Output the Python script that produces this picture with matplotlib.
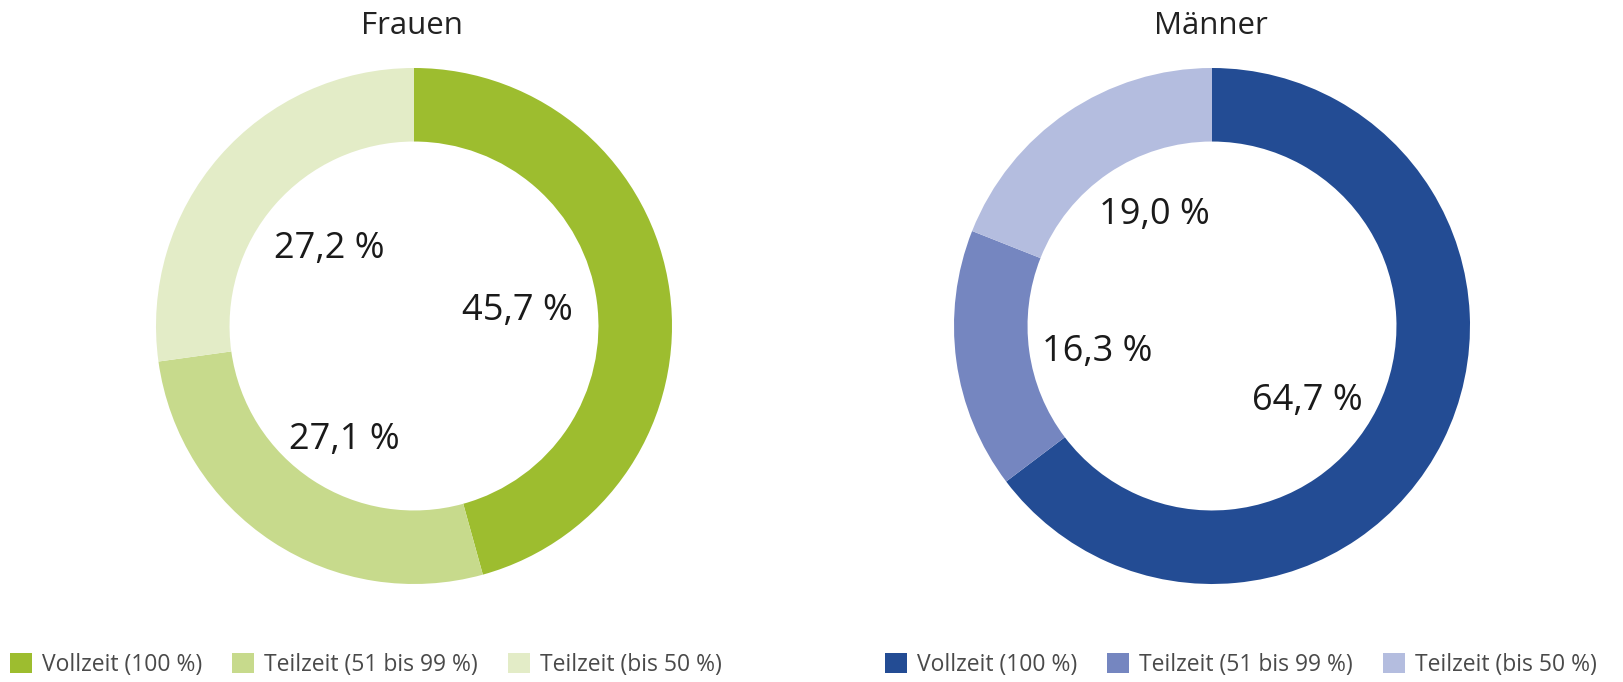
import numpy as np
import matplotlib
matplotlib.use("Agg")
import matplotlib.pyplot as plt
from matplotlib.patches import Patch

plt.rcParams['font.family'] = ['Open Sans', 'DejaVu Sans']

# Anteile Vollzeit / Teilzeit, in Prozent
kategorien = ['Vollzeit (100 %)', 'Teilzeit (51 bis 99 %)', 'Teilzeit (bis 50 %)']
frauen = [45.7, 27.1, 27.2]
maenner = [64.7, 16.3, 19.0]
titel = ['Frauen', 'Männer']

farben_frauen = ['#9dbd2f', '#c7da8c', '#e3ecc7']
farben_maenner = ['#234c94', '#7586c0', '#b4bddf']

# Lage der Prozentzahlen im Ring (Einheiten des Radius)
pos_frauen = [(0.40, 0.06), (-0.27, -0.44), (-0.33, 0.30)]
pos_maenner = [(0.37, -0.29), (-0.445, -0.10), (-0.225, 0.43)]

W, H = 1623, 682
fig = plt.figure(figsize=(W / 100, H / 100), dpi=100)


def donut(rect, werte, farben, positionen):
    ax = fig.add_axes(rect)
    ax.pie(werte, colors=farben, startangle=90, counterclock=False,
           radius=1.0, wedgeprops=dict(width=0.285, linewidth=0))
    for v, (x, y) in zip(werte, positionen):
        txt = ('%.1f' % v).replace('.', ',') + ' %'
        ax.text(x, y, txt, ha='center', va='center', fontsize=26, color='#1a1a1a')
    ax.set_aspect('auto')
    ax.set_xlim(-1, 1)
    ax.set_ylim(-1, 1)
    ax.axis('off')
    return ax


# Mittelpunkte (414, 326) und (1212, 326) in Pixeln, Radius ca. 258
donut([156 / W, 98 / H, 516 / W, 516 / H], frauen, farben_frauen, pos_frauen)
donut([954 / W, 98 / H, 516 / W, 516 / H], maenner, farben_maenner, pos_maenner)

fig.text(412 / W, 1 - 26 / H, titel[0], ha='center', va='center', fontsize=22.5, color='#222222')
fig.text(1211 / W, 1 - 26 / H, titel[1], ha='center', va='center', fontsize=22.5, color='#222222')

# Legenden unter beiden Ringen
for x0, farben in [(10 / W, farben_frauen), (885 / W, farben_maenner)]:
    handles = [Patch(facecolor=c, edgecolor='none') for c in farben]
    fig.legend(handles, kategorien, loc='center left', bbox_to_anchor=(x0, 1 - 665 / H),
               ncol=3, frameon=False, fontsize=16.5, handlelength=0.95, handleheight=0.95,
               handletextpad=0.45, columnspacing=1.3, borderpad=0, borderaxespad=0,
               labelcolor='#4a4a4a')

fig.savefig('out.png', dpi=100, facecolor='white')
